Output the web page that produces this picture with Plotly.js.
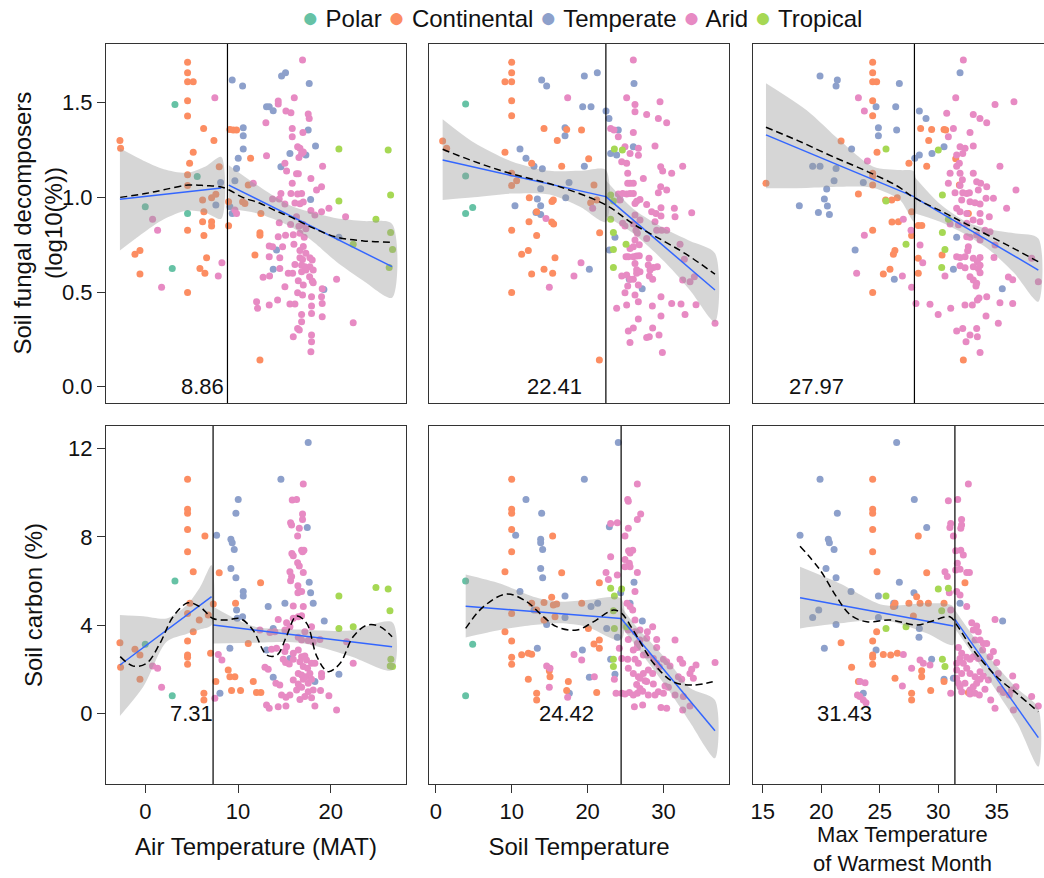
<!DOCTYPE html>
<html><head><meta charset="utf-8">
<script src="https://cdn.plot.ly/plotly-3.0.1.min.js"></script>
<style>html,body{margin:0;padding:0;overflow:hidden;background:#fff}#plot{width:1060px;height:878px}</style>
</head><body><div id="plot"></div><script>
const groups = ["Polar","Continental","Temperate","Arid","Tropical"];
const groupColors = ["#66c2a5","#fc8d62","#8da0cb","#e78ac3","#a6d854"];

// ---------- Row 1: Soil fungal decomposers (log10 %) ----------
// vs Air Temperature (MAT)
const fungMAT_Polar = [[3.2,1.49],[5.6,1.11],[0.0,0.95],[4.56,0.915],[2.91,0.625]];
const fungMAT_Continental = [[-2.73,1.30],[-2.66,1.26],[-1.11,0.70],[-0.57,0.72],[-0.57,0.595],[4.56,1.713],[4.56,1.658],[4.56,1.611],[5.17,1.611],[4.56,1.51],[4.56,1.43],[6.29,1.364],[7.40,1.30],[5.17,1.238],[4.78,1.18],[4.56,1.12],[4.56,1.063],[7.97,1.162],[6.18,0.986],[7.15,0.998],[7.61,1.016],[6.32,0.924],[6.18,0.871],[7.15,0.871],[7.15,0.849],[6.32,0.798],[4.56,0.827],[6.61,0.681],[5.89,0.625],[6.43,0.599],[4.56,0.498],[8.98,0.85],[8.98,0.977],[9.12,1.359],[9.48,1.356],[9.84,1.356],[11.35,1.206],[11.1,1.065],[10.49,0.977],[10.74,0.968],[12.46,0.915],[12.36,0.813],[12.36,0.80],[11.82,0.695],[12.36,0.141]];
const fungMAT_Temperate = [[8.12,1.079],[7.61,0.96],[9.37,1.62],[10.49,1.588],[10.56,1.368],[10.56,1.326],[10.56,1.255],[10.02,1.206],[9.84,1.153],[9.66,1.088],[9.12,0.951],[9.37,0.915],[13.07,1.479],[13.36,1.479],[13.79,1.458],[14.69,1.641],[15.12,1.658],[17.67,1.602],[17.56,1.356],[18.35,1.271],[17.31,1.224],[15.59,1.232],[14.62,1.162],[17.82,0.989],[14.15,0.722],[13.79,0.62],[20.87,0.789],[19.25,0.514]];
const fungMAT_Arid = [[7.5,1.526],[0.79,0.884],[1.33,0.827],[1.76,0.525],[8.26,0.655],[7.87,0.585],[11.64,1.074],[9.66,0.933],[9.84,0.915],[16.95,1.725],[16.06,1.526],[14.33,1.509],[14.33,1.493],[15.16,1.456],[15.7,1.447],[17.56,1.44],[17.67,1.417],[13.0,1.394],[15.84,1.364],[16.99,1.342],[15.84,1.32],[19.11,1.165],[16.42,1.268],[16.67,1.26],[16.85,1.232],[17.03,1.24],[16.56,1.21],[13.07,1.22],[15.05,1.18],[15.23,1.139],[16.3,1.125],[16.5,1.125],[17.85,1.10],[15.84,1.074],[19.0,1.056],[18.46,1.039],[14.62,1.021],[15.7,1.02],[16.42,1.018],[16.85,1.02],[14.44,0.991],[13.72,0.991],[16.13,0.97],[16.67,0.966],[17.03,0.975],[15.05,0.965],[19.79,0.942],[19.0,0.924],[17.85,0.93],[18.28,0.907],[21.59,0.898],[16.3,0.898],[14.44,0.866],[15.66,0.857],[16.56,0.848],[17.03,0.857],[17.31,0.834],[15.12,0.80],[15.95,0.803],[16.67,0.81],[17.13,0.79],[14.33,0.792],[13.36,0.743],[13.72,0.739],[14.8,0.739],[16.02,0.752],[16.67,0.72],[17.03,0.74],[17.31,0.705],[13.36,0.687],[14.5,0.681],[16.67,0.681],[16.95,0.672],[17.74,0.681],[17.99,0.669],[16.13,0.646],[16.85,0.642],[17.2,0.634],[17.74,0.634],[14.5,0.625],[15.41,0.599],[15.88,0.599],[16.85,0.607],[17.31,0.616],[18.1,0.616],[17.71,0.581],[17.99,0.558],[18.1,0.549],[12.7,0.578],[13.4,0.585],[20.62,0.567],[16.49,0.56],[17.03,0.537],[15.05,0.528],[19.07,0.518],[16.42,0.496],[16.95,0.484],[17.92,0.475],[19.0,0.475],[19.07,0.44],[12.0,0.449],[12.1,0.414],[13.36,0.431],[14.26,0.458],[15.59,0.437],[16.13,0.437],[17.92,0.426],[17.92,0.387],[16.85,0.382],[19.07,0.37],[22.41,0.338],[16.85,0.343],[16.42,0.308],[16.6,0.30],[15.95,0.264],[17.92,0.273],[17.92,0.238],[17.85,0.185]];
const fungMAT_Tropical = [[20.87,1.255],[26.18,1.25],[26.44,1.012],[20.87,0.981],[24.86,0.884],[26.44,0.815],[26.65,0.725],[22.41,0.752],[26.29,0.629]];
const fungMAT_fit1 = [[-2.73,0.99],[8.2,1.05]];
const fungMAT_fit2 = [[9.0,1.065],[26.6,0.634]];
const fungMAT_band1 = [[-2.73,0.72,1.26],[0,0.82,1.19],[2,0.884,1.149],[4.5,0.93,1.13],[6.5,0.919,1.163],[8.2,0.887,1.213]];
const fungMAT_band2 = [[9.0,0.94,1.17],[12,0.916,1.066],[15.5,0.85,0.96],[18,0.77,0.92],[20.6,0.66,0.89],[23.5,0.56,0.875],[26.6,0.47,0.86]];
const fungMAT_smooth = [[-2.7,1.0],[0,1.02],[2,1.04],[4.6,1.065],[6.5,1.062],[8.2,1.055],[9.0,1.04],[10.5,1.0],[12.3,0.97],[14,0.93],[15.6,0.898],[18,0.84],[20.6,0.79],[23.5,0.77],[26.6,0.763]];
const fungMAT_break = 8.86;

// vs Soil Temperature
const fungSoil_Polar = [[3.91,1.493],[3.91,1.113],[4.84,0.947],[3.91,0.915]];
const fungSoil_Continental = [[0.88,1.298],[1.41,1.259],[9.98,1.713],[9.98,1.658],[9.1,1.611],[9.98,1.611],[9.98,1.51],[9.98,1.431],[14.25,1.364],[17.24,1.359],[19.2,1.356],[16.0,1.30],[9.1,1.238],[20.14,1.204],[16.58,1.165],[12.62,1.18],[9.98,1.127],[10.64,1.088],[9.98,1.063],[20.84,1.065],[12.31,0.998],[15.48,0.986],[15.3,0.978],[20.4,0.972],[13.28,0.924],[15.26,0.87],[15.52,0.86],[12.27,0.871],[9.98,0.827],[13.28,0.798],[21.59,0.813],[15.7,0.681],[12.18,0.72],[11.3,0.70],[14.25,0.621],[12.62,0.595],[15.39,0.599],[9.98,0.498],[21.55,0.141],[21.2,0.986]];
const fungSoil_Temperate = [[13.94,1.62],[14.6,1.588],[19.57,1.641],[21.28,1.658],[19.35,1.479],[20.45,1.479],[22.43,1.456],[22.82,1.417],[17.02,1.368],[17.02,1.326],[24.05,1.356],[11.08,1.255],[11.87,1.206],[12.93,1.165],[14.03,1.151],[17.55,1.079],[19.57,1.165],[26.03,1.268],[23.04,1.232],[23.83,1.224],[13.81,1.046],[13.37,0.991],[10.42,0.956],[13.81,0.956],[13.19,0.92],[13.81,0.91],[24.27,0.989],[17.11,0.998],[20.23,0.62],[23.61,0.789],[22.87,0.722],[25.5,0.567],[27.2,0.518],[26.12,1.602]];
const fungSoil_Arid = [[17.37,1.526],[20.67,0.942],[19.13,0.655],[18.2,0.585],[14.95,0.525],[14.51,0.889],[26.03,1.725],[25.15,1.526],[26.25,1.491],[26.25,1.452],[29.55,1.505],[27.79,1.438],[29.33,1.417],[30.43,1.394],[23.04,1.364],[23.48,1.356],[24.05,1.32],[26.03,1.342],[28.89,1.271],[24.93,1.268],[25.6,1.232],[26.7,1.26],[26.7,1.222],[24.5,1.188],[25.15,1.18],[32.54,1.165],[29.64,1.162],[29.9,1.139],[25.29,1.127],[25.29,1.074],[27.35,1.10],[31.09,1.127],[25.6,1.074],[26.03,1.074],[29.64,1.056],[30.43,1.039],[24.62,1.02],[25.15,1.018],[25.6,1.02],[26.03,1.02],[29.33,1.025],[24.05,1.018],[24.27,0.986],[26.91,0.989],[26.47,0.98],[26.25,0.968],[27.79,0.963],[31.44,0.942],[31.53,0.898],[33.73,0.919],[29.68,0.945],[29.68,0.901],[29.02,0.915],[28.45,0.924],[26.25,0.907],[26.91,0.88],[24.62,0.863],[24.93,0.849],[26.03,0.859],[28.89,0.871],[29.11,0.827],[29.77,0.827],[30.43,0.827],[26.38,0.827],[26.56,0.81],[26.25,0.775],[26.03,0.739],[25.59,0.73],[26.82,0.75],[27.79,0.783],[25.07,0.687],[25.37,0.687],[26.03,0.687],[26.47,0.69],[26.82,0.692],[28.1,0.678],[28.0,0.643],[32.19,0.752],[32.76,0.673],[29.2,0.634],[28.67,0.629],[28.23,0.616],[26.25,0.651],[26.47,0.618],[26.47,0.599],[26.91,0.607],[24.5,0.585],[25.15,0.59],[25.59,0.567],[26.03,0.567],[28.14,0.585],[28.58,0.567],[25.29,0.532],[26.69,0.537],[32.54,0.563],[33.51,0.555],[34.08,0.581],[24.93,0.496],[26.25,0.484],[26.69,0.449],[29.68,0.475],[31.09,0.44],[32.32,0.437],[34.3,0.433],[23.83,0.414],[25.15,0.431],[28.54,0.426],[32.85,0.382],[29.68,0.373],[26.69,0.357],[25.37,0.294],[26.03,0.31],[28.58,0.31],[29.42,0.273],[28.14,0.264],[27.79,0.26],[25.59,0.234],[29.86,0.181],[36.81,0.335]];
const fungSoil_Tropical = [[23.53,1.255],[24.58,1.25],[23.04,1.012],[23.4,0.981],[23.04,0.884],[23.4,0.815],[25.07,0.752],[23.4,0.725],[23.4,0.629]];
const fungSoil_fit1 = [[0.88,1.197],[22.41,1.004]];
const fungSoil_fit2 = [[22.41,1.004],[36.8,0.511]];
const fungSoil_band1 = [[0.88,0.986,1.413],[5,1.0,1.29],[10,1.02,1.19],[15,1.015,1.14],[19,0.95,1.14],[22.41,0.87,1.145]];
const fungSoil_band2 = [[22.41,0.90,1.09],[26,0.81,0.94],[30.4,0.65,0.83],[33.5,0.51,0.77],[36.8,0.343,0.705]];
const fungSoil_smooth = [[0.88,1.254],[5,1.19],[9.76,1.127],[16,1.06],[22.4,0.96],[26,0.86],[30,0.77],[33,0.70],[36.8,0.595]];
const fungSoil_break = 22.41;

// vs Max Temperature of Warmest Month
const fungMax_Polar = [];
const fungMax_Continental = [[15.28,1.074],[24.4,1.713],[24.4,1.658],[24.4,1.611],[24.74,1.611],[24.4,1.51],[24.4,1.431],[21.7,1.298],[24.77,1.238],[24.4,1.127],[24.4,1.11],[24.4,1.065],[23.18,1.018],[27.5,1.18],[29.02,1.165],[28.5,1.364],[29.44,1.359],[30.5,1.359],[30.64,1.356],[29.19,1.30],[31.5,1.204],[31.81,1.065],[25.51,0.986],[26.03,0.986],[26.5,0.998],[27.73,0.924],[26.05,0.87],[26.6,0.871],[24.4,0.827],[28.3,0.852],[28.6,0.852],[32.58,0.915],[27.73,0.798],[26.17,0.70],[26.3,0.72],[25.88,0.62],[25.31,0.595],[28.3,0.678],[28.3,0.599],[30.33,0.695],[24.4,0.498],[32.15,0.141]];
const fungMax_Temperate = [[19.9,1.641],[21.38,1.62],[21.27,1.588],[26.68,1.602],[31.87,1.658],[24.69,1.479],[26.37,1.479],[28.39,1.456],[28.96,1.417],[24.89,1.368],[24.89,1.326],[26.45,1.356],[22.6,1.255],[30.5,1.268],[29.47,1.232],[28.39,1.224],[28.0,1.206],[19.27,1.165],[19.9,1.165],[21.27,1.153],[21.1,1.088],[23.6,1.079],[20.47,1.044],[20.27,0.991],[20.53,0.954],[18.13,0.956],[19.76,0.92],[20.7,0.91],[22.9,0.722],[31.58,0.789],[31.3,0.62],[26.25,0.567],[35.48,0.518]];
const fungMax_Arid = [[23.18,1.526],[23.69,1.456],[23.95,1.192],[23.69,0.80],[23.03,0.599],[26.94,0.585],[27.02,0.884],[27.68,0.827],[27.73,0.525],[32.15,1.725],[31.5,1.526],[36.48,1.505],[34.86,1.491],[30.73,1.444],[33.0,1.438],[33.57,1.417],[34.15,1.394],[31.3,1.364],[30.87,1.32],[32.72,1.342],[33.0,1.271],[31.87,1.268],[32.3,1.26],[32.1,1.232],[31.58,1.224],[31.81,1.18],[31.58,1.165],[35.28,1.165],[31.02,1.127],[31.87,1.127],[33.0,1.127],[33.29,1.083],[33.63,1.074],[32.07,1.093],[31.87,1.063],[30.87,1.074],[34.15,1.056],[33.43,1.039],[36.65,1.039],[31.44,1.025],[32.1,1.025],[32.44,1.021],[32.67,1.025],[34.72,0.995],[34.09,0.995],[32.01,0.986],[32.72,0.977],[33.15,0.972],[33.58,0.965],[35.85,0.942],[31.58,0.942],[31.87,0.924],[32.44,0.915],[31.02,0.86],[31.73,0.855],[32.44,0.863],[33.58,0.915],[34.37,0.898],[32.99,0.88],[33.58,0.871],[34.0,0.827],[34.43,0.818],[34.86,0.748],[34.77,0.683],[32.44,0.792],[32.72,0.789],[33.29,0.801],[33.58,0.775],[28.45,0.748],[32.58,0.739],[32.52,0.718],[31.58,0.687],[31.87,0.683],[32.3,0.687],[33.0,0.678],[33.58,0.683],[33.35,0.66],[28.68,0.655],[31.87,0.639],[32.3,0.628],[33.0,0.634],[33.43,0.625],[33.58,0.642],[30.58,0.585],[32.72,0.581],[33.0,0.563],[33.29,0.546],[33.58,0.602],[33.23,0.532],[36.0,0.58],[36.37,0.565],[38.56,0.555],[37.99,0.678],[28.1,0.44],[29.3,0.435],[30.0,0.382],[31.07,0.414],[32.29,0.431],[32.92,0.431],[33.35,0.458],[33.49,0.469],[34.09,0.373],[34.15,0.475],[35.28,0.444],[36.37,0.44],[35.14,0.335],[31.58,0.294],[32.1,0.308],[32.72,0.273],[33.35,0.264],[33.29,0.308],[32.38,0.238],[33.58,0.181]];
const fungMax_Tropical = [[25.54,1.255],[30.01,1.25],[30.36,1.012],[25.54,0.981],[30.87,0.884],[30.36,0.815],[27.25,0.752],[30.58,0.725],[30.3,0.629]];
const fungMax_fit1 = [[15.28,1.33],[27.93,1.004]];
const fungMax_fit2 = [[27.97,1.0],[38.56,0.616]];
const fungMax_band1 = [[15.28,1.048,1.603],[18.76,1.05,1.46],[21.6,1.056,1.30],[24.46,1.05,1.162],[26.74,0.986,1.144],[27.93,0.872,1.136]];
const fungMax_band2 = [[27.97,0.916,1.109],[30.16,0.871,0.965],[32.44,0.80,0.87],[34.43,0.72,0.83],[36.5,0.60,0.81],[38.56,0.449,0.783]];
const fungMax_smooth = [[15.28,1.37],[18,1.30],[21,1.215],[24,1.135],[26.5,1.06],[27.9,1.0],[30.5,0.92],[33,0.84],[36,0.745],[38.56,0.66]];
const fungMax_break = 27.97;

// ---------- Row 2: Soil carbon (%) ----------
const carbMAT_Polar = [[3.2,6.0],[0.0,3.13],[2.91,0.80]];
const carbMAT_Continental = [[-2.73,3.20],[-2.66,2.09],[-1.11,2.9],[-0.57,2.64],[-0.57,1.54],[4.56,10.62],[4.56,9.26],[4.56,9.07],[4.56,8.34],[4.56,7.33],[6.43,8.04],[5.17,6.42],[4.56,4.53],[4.81,4.99],[5.82,4.23],[5.17,3.70],[4.56,3.28],[4.56,2.64],[4.56,2.54],[4.56,2.22],[6.79,4.46],[7.04,2.72],[7.33,4.96],[6.32,0.91],[6.32,0.60],[7.97,6.38],[7.61,1.44],[9.73,4.99],[8.94,1.96],[9.12,1.66],[9.66,1.66],[9.3,1.03],[10.27,1.03],[11.1,3.17],[11.64,1.44],[12.43,5.92],[12.46,0.94],[11.99,0.94]];
const carbMAT_Temperate = [[7.69,8.08],[10.02,9.70],[9.77,9.07],[9.23,7.89],[9.37,7.74],[9.59,7.43],[9.23,6.57],[9.77,6.15],[10.56,5.52],[10.56,5.32],[9.84,4.68],[9.91,4.31],[10.49,4.38],[9.12,2.95],[8.05,0.91],[13.25,4.84],[14.62,10.62],[17.56,12.28],[17.46,8.43],[17.67,5.94],[17.82,5.47],[18.1,4.99],[15.05,4.99],[19.29,4.19],[13.79,3.85],[13.07,2.87],[15.59,2.49],[13.79,1.63],[20.87,1.77],[18.28,1.44]];
const carbMAT_Arid = [[0.79,2.15],[1.33,2.04],[1.76,1.18],[7.87,2.67],[8.26,2.42],[7.5,0.68],[17.03,10.40],[15.84,9.67],[16.31,9.70],[16.95,9.04],[16.95,8.79],[15.66,8.64],[15.77,8.54],[16.42,8.04],[16.6,8.39],[16.85,7.40],[16.95,7.33],[17.1,7.4],[15.8,7.25],[15.95,7.15],[16.42,6.83],[16.6,6.68],[17.03,6.39],[15.59,6.42],[15.77,6.2],[16.45,5.79],[16.6,5.52],[16.45,5.47],[15.66,6.01],[16.85,5.52],[15.95,4.87],[17.03,4.84],[16.49,4.38],[15.95,4.31],[16.85,4.42],[14.33,4.26],[15.23,4.11],[15.59,3.93],[15.05,3.78],[17.2,3.70],[17.92,3.93],[13.43,3.66],[13.97,3.70],[12.36,3.78],[16.49,3.45],[16.85,3.33],[17.56,3.30],[18.1,3.23],[18.82,3.35],[21.7,3.25],[22.41,2.27],[12.9,2.09],[13.25,2.0],[14.15,2.95],[13.61,2.9],[15.23,3.02],[15.05,2.80],[15.95,2.72],[16.49,2.87],[16.85,2.57],[17.2,2.60],[17.38,2.42],[14.87,2.45],[15.12,2.3],[15.52,2.24],[15.95,2.45],[16.67,2.34],[17.03,2.12],[17.49,2.04],[17.92,2.27],[18.28,2.27],[16.49,1.81],[16.85,1.74],[17.31,1.66],[17.74,1.81],[19.0,1.81],[19.0,1.66],[14.08,1.36],[14.5,1.28],[15.95,1.51],[16.49,1.33],[17.03,1.54],[17.56,1.36],[17.92,1.54],[16.31,1.06],[16.85,1.18],[17.56,0.98],[18.1,1.06],[15.59,0.83],[15.16,0.73],[14.69,0.83],[17.2,0.76],[17.92,0.71],[19.79,0.80],[18.89,1.03],[18.28,0.33],[13.07,0.38],[13.36,0.23],[14.33,0.30],[15.16,0.33],[20.62,0.15],[16.67,0.63]];
const carbMAT_Tropical = [[20.87,5.32],[24.86,5.70],[26.18,5.64],[26.37,4.65],[20.87,3.85],[22.41,3.93],[26.47,2.45],[26.65,2.12],[26.4,2.15]];
const carbMAT_fit1 = [[-2.73,2.19],[7.15,5.29]];
const carbMAT_fit2 = [[7.33,4.0],[26.6,3.02]];
const carbMAT_band1 = [[-2.73,-0.12,4.46],[-0.22,1.2,4.4],[2.3,3.25,4.3],[4.45,3.6,4.9],[5.89,3.8,5.7],[7.15,4.0,6.72]];
const carbMAT_band2 = [[7.33,3.17,4.83],[11.64,3.2,3.95],[16.67,3.2,3.8],[22.05,2.6,3.75],[26.65,1.96,4.12]];
const carbMAT_smooth = [[-2.7,2.57],[-1.29,2.14],[0.15,2.27],[1.58,3.17],[3.0,4.38],[4.6,5.01],[5.9,4.83],[7.3,4.3],[8.8,4.23],[10.2,4.3],[11.6,3.78],[13.1,2.64],[14.2,2.64],[15.2,3.47],[16.3,4.41],[17.4,4.08],[18.5,2.57],[19.7,1.89],[21.0,2.27],[22.4,3.47],[23.9,4.0],[25.3,3.93],[26.6,3.47]];
const carbMAT_break = 7.31;

const carbSoil_Polar = [[3.91,6.0],[4.84,3.13],[3.91,0.80]];
const carbSoil_Continental = [[9.98,10.62],[9.98,9.26],[9.98,9.07],[9.98,8.34],[9.98,7.33],[15.39,8.04],[9.1,6.42],[16.58,6.38],[21.55,5.92],[15.26,5.26],[14.25,5.03],[15.48,4.91],[15.92,4.96],[19.22,4.99],[12.62,4.99],[13.28,4.68],[9.98,4.53],[14.25,4.23],[15.7,4.38],[20.1,3.85],[9.1,3.70],[9.98,3.28],[20.84,3.14],[21.55,3.32],[21.55,2.95],[11.3,2.66],[12.18,2.72],[12.62,2.675],[9.98,2.54],[9.98,2.22],[14.95,1.93],[15.04,1.66],[12.18,1.54],[17.46,1.44],[17.24,1.03],[21.2,0.94],[13.28,0.91],[13.28,0.60]];
const carbSoil_Temperate = [[24.05,12.28],[19.57,10.62],[11.87,9.70],[13.94,9.07],[10.51,8.08],[13.81,7.89],[13.81,7.74],[14.07,7.43],[13.81,6.57],[14.07,6.15],[22.87,8.46],[26.12,5.94],[11.08,5.52],[17.02,5.32],[24.36,5.47],[20.45,4.84],[21.33,4.99],[25.6,4.99],[12.93,4.68],[17.02,4.35],[14.6,4.03],[27.22,4.19],[22.52,3.85],[23.92,3.45],[13.37,2.95],[19.31,2.87],[23.04,2.45],[23.61,1.77],[20.23,1.63],[17.59,0.91]];
const carbSoil_Arid = [[23.04,8.61],[23.92,8.64],[23.04,7.10],[22.43,6.39],[22.74,6.07],[23.92,6.27],[18.21,2.67],[19.22,2.42],[20.89,1.66],[14.6,2.15],[15.04,2.04],[14.95,1.18],[17.37,0.73],[23.53,1.54],[23.75,0.91],[24.19,2.95],[26.56,10.40],[25.29,9.70],[25.37,9.62],[27.0,9.04],[26.56,8.79],[25.37,8.39],[24.93,8.04],[25.4,7.37],[25.6,7.27],[25.95,7.4],[24.93,6.98],[25.5,6.8],[25.6,6.65],[24.93,6.65],[26.56,6.39],[26.25,5.52],[25.2,4.99],[25.6,4.84],[25.95,4.68],[26.25,4.23],[25.37,3.78],[26.25,3.70],[26.91,3.78],[27.88,3.70],[28.58,3.93],[31.53,3.32],[29.11,3.35],[29.11,2.99],[27.79,3.40],[26.91,3.32],[26.56,3.17],[25.37,3.35],[26.03,2.87],[26.56,2.99],[27.35,2.64],[27.88,2.64],[28.67,2.49],[29.11,2.27],[25.29,2.45],[26.25,2.45],[26.69,2.27],[24.5,2.49],[25.37,2.04],[26.03,1.81],[26.69,1.66],[27.35,1.81],[28.01,1.96],[28.58,1.81],[29.46,2.11],[30.0,2.45],[30.43,2.34],[30.87,2.15],[32.19,2.45],[32.54,2.27],[34.3,2.19],[36.81,2.30],[33.73,2.0],[33.5,1.81],[31.97,1.66],[32.41,1.54],[33.95,1.59],[30.21,1.24],[30.65,1.18],[29.33,0.98],[30.0,0.91],[28.67,1.33],[27.79,1.44],[26.47,1.31],[26.91,1.13],[27.57,1.48],[24.5,0.91],[24.93,0.88],[25.51,0.94],[26.03,0.83],[26.56,0.91],[27.26,1.0],[28.01,0.83],[31.53,0.83],[32.63,0.76],[28.89,0.83],[26.17,0.30],[27.26,0.38],[29.68,0.26],[30.43,0.23],[32.54,0.15],[33.5,0.33],[26.91,1.59]];
const carbSoil_Tropical = [[23.04,5.67],[24.49,5.64],[23.53,5.32],[23.4,4.65],[23.53,3.85],[25.15,3.93],[23.4,2.45],[23.4,2.12]];
const carbSoil_fit1 = [[3.92,4.86],[24.42,4.3]];
const carbSoil_fit2 = [[24.42,4.3],[36.8,-0.79]];
const carbSoil_band1 = [[3.92,3.44,6.3],[8.44,3.78,5.89],[12.84,4.0,5.29],[16.36,4.08,5.06],[19.88,3.93,5.14],[24.42,3.32,5.21]];
const carbSoil_band2 = [[24.42,3.93,4.83],[26.5,3.0,3.9],[28.67,2.0,3.1],[31,0.9,2.2],[33.5,-0.4,1.15],[36.8,-2.04,0.6]];
const carbSoil_smooth = [[3.92,3.85],[6.24,4.83],[9.33,5.41],[11.97,5.06],[13.7,4.53],[15.9,3.93],[18.6,3.78],[20.75,4.15],[23.4,4.68],[24.5,4.53],[26.0,3.78],[28.7,2.27],[31.3,1.43],[33.9,1.28],[36.5,1.43]];
const carbSoil_break = 24.42;

const carbMax_Polar = [];
const carbMax_Continental = [[24.4,10.62],[24.4,9.26],[24.4,9.07],[24.4,8.34],[24.4,7.33],[28.3,8.04],[24.77,6.42],[29.02,6.38],[32.29,5.92],[27.5,4.99],[28.16,5.29],[28.45,4.99],[29.16,4.99],[26.31,4.99],[26.17,4.84],[30.5,4.99],[27.88,4.41],[24.74,3.70],[21.7,3.20],[24.4,3.28],[24.4,2.64],[24.4,2.54],[24.4,2.22],[25.31,2.67],[25.94,2.64],[26.51,2.72],[22.6,2.09],[28.59,1.66],[28.59,1.93],[26.31,1.59],[23.18,1.44],[27.73,0.91],[27.73,0.60],[29.36,1.03],[30.5,1.44],[32.58,0.94]];
const carbMax_Temperate = [[26.45,12.28],[19.9,10.62],[27.96,9.70],[21.38,9.07],[18.19,8.08],[20.61,7.89],[20.7,7.74],[21.1,7.43],[29.02,8.43],[20.41,6.57],[21.27,6.15],[26.68,5.94],[22.55,5.52],[24.89,5.32],[27.93,5.47],[26.2,4.99],[26.3,4.87],[31.87,4.99],[19.79,4.68],[19.27,4.35],[35.51,4.19],[21.27,4.03],[24.89,4.35],[28.39,3.85],[28.36,3.45],[20.27,2.95],[24.69,2.87],[29.44,2.45],[30.5,1.54],[31.3,1.59],[23.6,0.91]];
const carbMax_Arid = [[30.87,9.64],[31.67,9.70],[31.07,8.61],[31.0,8.43],[31.3,8.04],[30.58,6.42],[30.78,6.2],[30.95,5.47],[31.07,4.68],[27.02,2.67],[27.73,2.04],[28.45,2.42],[28.73,2.27],[29.3,2.19],[23.75,1.39],[23.32,1.44],[23.1,0.83],[23.3,0.76],[23.6,0.6],[23.83,0.48],[26.94,1.24],[31.07,0.91],[32.58,10.40],[32.0,8.79],[32.0,8.54],[31.93,8.39],[31.5,7.37],[31.93,7.4],[32.15,7.18],[31.64,6.8],[31.87,6.53],[31.5,6.5],[32.44,6.39],[32.67,6.39],[31.87,5.36],[31.58,5.52],[32.44,4.84],[32.87,4.11],[33.29,3.96],[33.0,3.78],[33.43,3.70],[33.15,3.32],[33.58,3.32],[33.86,3.17],[33.8,2.87],[34.86,4.26],[34.72,2.80],[34.43,2.57],[31.73,2.99],[32.01,2.72],[32.44,2.54],[31.87,2.49],[32.15,2.27],[32.72,2.45],[33.0,2.57],[33.43,2.49],[31.58,2.27],[31.58,1.96],[32.01,1.81],[32.44,2.04],[32.72,1.81],[33.15,1.66],[33.58,1.89],[33.86,1.69],[35.0,2.30],[35.14,1.81],[36.37,1.69],[36.65,1.21],[35.28,1.09],[35.57,0.94],[34.49,0.60],[34.86,0.23],[36.43,0.15],[37.99,0.76],[38.56,0.33],[36.08,0.83],[36.28,1.06],[31.87,1.21],[32.29,1.36],[32.72,1.06],[33.0,1.21],[33.29,1.36],[32.01,0.98],[32.72,0.88],[33.15,0.91],[33.52,0.83],[34.0,1.09],[33.58,1.54],[34.29,1.51],[31.58,1.59],[31.73,1.36],[34.15,3.17]];
const carbMax_Tropical = [[30.01,5.64],[30.87,5.67],[25.54,5.32],[30.3,4.65],[25.54,3.85],[27.25,3.93],[30.36,2.45],[30.58,2.12]];
const carbMax_fit1 = [[18.19,5.24],[31.29,3.96]];
const carbMax_fit2 = [[31.43,4.26],[38.56,-1.1]];
const carbMax_band1 = [[18.19,3.85,6.65],[21.6,4.08,5.89],[25.31,4.23,4.91],[29.02,3.63,4.99],[31.29,3.10,4.84]];
const carbMax_band2 = [[31.43,3.85,4.68],[33.0,2.65,3.5],[35.0,1.0,2.15],[36.8,-0.5,1.1],[38.56,-2.42,0.23]];
const carbMax_smooth = [[18.19,7.58],[19.9,6.5],[21.3,5.29],[22.5,4.46],[23.9,4.15],[25.9,4.23],[28.2,4.0],[29.3,4.15],[31.0,4.38],[31.6,4.0],[33.0,2.87],[35.0,1.66],[36.7,0.91],[38.56,0.07]];
const carbMax_break = 31.43;

// ---------- text ----------
const xTitles = ["Air Temperature (MAT)", "Soil Temperature", "Max Temperature<br>of Warmest Month"];
const yTitles = ["Soil fungal decomposers<br>(log10(%))", "Soil carbon (%)"];
const xTicks = [[0,10,20],[0,10,20,30],[15,20,25,30,35]];
const yTicks = [[0,0.5,1,1.5],[0,4,8,12]];

// ---------- build ----------
const W = 1060, H = 878;
const colPx = [[106,406],[429,729],[753,1052]];
const rowPx = [[44,403],[426,784]];
const xRanges = [[-4.23,28.1],[-0.92,38.65],[14.17,39.73]];
const yRanges = [[-0.086,1.81],[-3.206,13.03]];

const panels = [
  {r:0,c:0,pts:[fungMAT_Polar,fungMAT_Continental,fungMAT_Temperate,fungMAT_Arid,fungMAT_Tropical],fits:[fungMAT_fit1,fungMAT_fit2],bands:[fungMAT_band1,fungMAT_band2],smooth:fungMAT_smooth,bp:fungMAT_break,lx:6.2},
  {r:0,c:1,pts:[fungSoil_Polar,fungSoil_Continental,fungSoil_Temperate,fungSoil_Arid,fungSoil_Tropical],fits:[fungSoil_fit1,fungSoil_fit2],bands:[fungSoil_band1,fungSoil_band2],smooth:fungSoil_smooth,bp:fungSoil_break,lx:15.6},
  {r:0,c:2,pts:[fungMax_Polar,fungMax_Continental,fungMax_Temperate,fungMax_Arid,fungMax_Tropical],fits:[fungMax_fit1,fungMax_fit2],bands:[fungMax_band1,fungMax_band2],smooth:fungMax_smooth,bp:fungMax_break,lx:19.56},
  {r:1,c:0,pts:[carbMAT_Polar,carbMAT_Continental,carbMAT_Temperate,carbMAT_Arid,carbMAT_Tropical],fits:[carbMAT_fit1,carbMAT_fit2],bands:[carbMAT_band1,carbMAT_band2],smooth:carbMAT_smooth,bp:carbMAT_break,lx:5.0},
  {r:1,c:1,pts:[carbSoil_Polar,carbSoil_Continental,carbSoil_Temperate,carbSoil_Arid,carbSoil_Tropical],fits:[carbSoil_fit1,carbSoil_fit2],bands:[carbSoil_band1,carbSoil_band2],smooth:carbSoil_smooth,bp:carbSoil_break,lx:17.15},
  {r:1,c:2,pts:[carbMax_Polar,carbMax_Continental,carbMax_Temperate,carbMax_Arid,carbMax_Tropical],fits:[carbMax_fit1,carbMax_fit2],bands:[carbMax_band1,carbMax_band2],smooth:carbMax_smooth,bp:carbMax_break,lx:21.95}
];

const FONT = '"Liberation Sans", Arial, sans-serif';
const traces = [], shapes = [], annotations = [];
const layout = {
  width: W, height: H, margin:{l:0,r:0,t:0,b:0},
  paper_bgcolor:'#fff', plot_bgcolor:'#fff', showlegend:false,
  font:{family:FONT, size:22, color:'#111'}
};

panels.forEach((p, i) => {
  const n = i + 1;
  const xa = 'x' + (n === 1 ? '' : n), ya = 'y' + (n === 1 ? '' : n);
  const xKey = 'xaxis' + (n === 1 ? '' : n), yKey = 'yaxis' + (n === 1 ? '' : n);
  const cp = colPx[p.c], rp = rowPx[p.r];
  const xAx = {
    domain:[cp[0]/W, cp[1]/W], range:xRanges[p.c], anchor:ya,
    showline:true, mirror:true, linecolor:'#333', linewidth:1,
    showgrid:false, zeroline:false, fixedrange:true,
    ticks:'', showticklabels:false
  };
  const yAx = {
    domain:[1-rp[1]/H, 1-rp[0]/H], range:yRanges[p.r], anchor:xa,
    showline:true, mirror:true, linecolor:'#333', linewidth:1,
    showgrid:false, zeroline:false, fixedrange:true,
    ticks:'', showticklabels:false
  };
  if (p.r === 1) {
    Object.assign(xAx, {ticks:'outside', ticklen:8, tickcolor:'#333', tickwidth:1,
      showticklabels:true, tickmode:'array', tickvals:xTicks[p.c],
      tickfont:{size:22, color:'#111'}});
    if (p.c < 2) xAx.title = {text:xTitles[p.c], font:{size:24, color:'#111'}, standoff: 14};
  }
  if (p.c === 0) {
    Object.assign(yAx, {ticks:'outside', ticklen:8, tickcolor:'#333', tickwidth:1,
      showticklabels:true, tickmode:'array', tickvals:yTicks[p.r],
      tickformat: p.r===0 ? '.1f' : 'd', tickfont:{size:22, color:'#111'}});
    if (p.r === 1) yAx.title = {text:yTitles[1], font:{size:24, color:'#111'}, standoff: 18};
  }
  layout[xKey] = xAx; layout[yKey] = yAx;

  // points
  [2,1,0,3,4].forEach(g => {
    const arr = p.pts[g];
    if (!arr.length) return;
    traces.push({type:'scatter', mode:'markers', xaxis:xa, yaxis:ya,
      x:arr.map(d=>d[0]), y:arr.map(d=>d[1]), name:groups[g], hoverinfo:'skip',
      marker:{size:7, color:groupColors[g], line:{width:0}}});
  });
  // confidence bands
  p.bands.forEach(b => {
    const xs = b.map(d=>d[0]), lo = b.map(d=>d[1]), hi = b.map(d=>d[2]);
    traces.push({type:'scatter', mode:'lines', xaxis:xa, yaxis:ya, hoverinfo:'skip',
      x: xs.concat(xs.slice().reverse()), y: hi.concat(lo.slice().reverse()),
      fill:'toself', fillcolor:'rgba(153,153,153,0.4)', line:{width:0, shape:'spline', smoothing:0.8}});
  });
  // segmented fits
  p.fits.forEach(f => {
    traces.push({type:'scatter', mode:'lines', xaxis:xa, yaxis:ya, hoverinfo:'skip',
      x:f.map(d=>d[0]), y:f.map(d=>d[1]), line:{color:'#3366FF', width:1.5}});
  });
  // smooth (dashed)
  traces.push({type:'scatter', mode:'lines', xaxis:xa, yaxis:ya, hoverinfo:'skip',
    x:p.smooth.map(d=>d[0]), y:p.smooth.map(d=>d[1]),
    line:{color:'#000', width:1.5, dash:'7px,4px', shape:'spline', smoothing:1}});
  // breakpoint line
  shapes.push({type:'line', xref:xa, yref:ya+' domain', x0:p.bp, x1:p.bp, y0:0, y1:1,
    line:{color:'#000', width:1.2}, layer:'above'});
  annotations.push({xref:xa, yref:ya, x:p.lx, y:0, text:p.bp.toFixed(2), showarrow:false,
    xanchor:'center', yanchor:'middle', font:{size:22, color:'#111'}});
});

// row-1 y-axis title (two lines, placed precisely)
annotations.push({xref:'paper', yref:'paper', x:37/W, y:1-223.5/H, text:yTitles[0], textangle:-90,
  showarrow:false, xanchor:'center', yanchor:'middle', font:{size:24, color:'#111'}});
// third column x-axis title (two lines, fitted between tick labels and the page edge)
annotations.push({xref:'paper', yref:'paper', x:902/W, y:1-849/H, text:xTitles[2], borderpad:0,
  showarrow:false, xanchor:'center', yanchor:'middle', font:{size:22, color:'#111'}});

// legend row
const legendText = groups.map((g,i)=>'<span style="color:'+groupColors[i]+';font-size:28px">●</span> '+g).join(' ');
annotations.push({xref:'paper', yref:'paper', x:582/W, y:1-18/H, text:legendText, showarrow:false,
  xanchor:'center', yanchor:'middle', font:{size:24, color:'#111'}});

layout.shapes = shapes;
layout.annotations = annotations;
Plotly.newPlot('plot', traces, layout, {staticPlot:true, displayModeBar:false});
</script></body></html>
